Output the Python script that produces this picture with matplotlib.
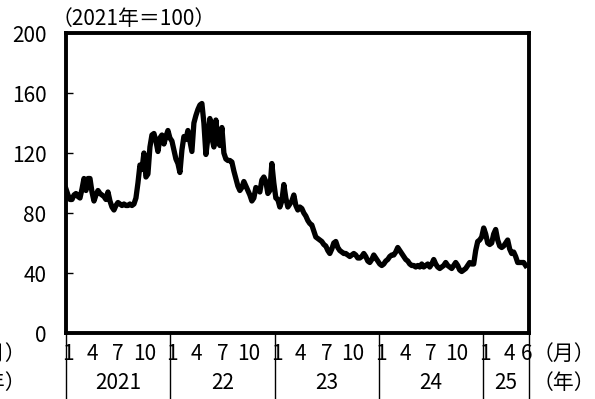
import numpy as np
import matplotlib
matplotlib.use('Agg')
import matplotlib.pyplot as plt

plt.rcParams['font.family'] = ['Noto Sans CJK JP', 'DejaVu Sans']

# weekly index (2021 = 100)
v2021 = [96, 92, 89, 89, 92, 93, 91, 90, 96, 103, 95, 103, 103, 94, 88, 92, 95, 93, 92, 91,
         89, 94, 88, 84, 82, 85, 87, 86, 85, 86, 85, 85, 86, 85, 86, 90, 100, 112, 109, 120,
         104, 106, 124, 132, 133, 128, 121, 130, 132, 126, 131, 135]
v2022 = [130, 128, 122, 116, 113, 107, 122, 131, 129, 135, 128, 121, 140, 145, 149, 152, 153, 140, 119, 130,
         143, 130, 124, 142, 128, 125, 137, 120, 116, 115, 115, 114, 108, 103, 98, 95, 97, 101, 98, 95,
         92, 88, 90, 97, 96, 94, 102, 104, 101, 93, 95, 113]
v2023 = [100, 90, 89, 84, 88, 99, 90, 84, 86, 88, 92, 85, 82, 84, 83, 80, 78, 75, 73, 72,
         68, 64, 63, 62, 61, 59, 58, 55, 53, 56, 60, 61, 57, 55, 54, 53, 53, 52, 51, 52,
         53, 52, 50, 50, 51, 53, 51, 48, 47, 49, 52, 50]
v2024 = [48, 46, 45, 46, 48, 49, 51, 52, 52, 54, 57, 55, 53, 51, 49, 48, 46, 45, 45, 44,
         45, 44, 46, 44, 45, 46, 44, 46, 49, 46, 44, 43, 44, 45, 47, 45, 44, 43, 45, 47,
         45, 42, 41, 42, 43, 45, 47, 46, 46, 55, 61, 62]
v2025 = [64, 70, 66, 60, 59, 60, 66, 69, 62, 58, 57, 58, 60, 62, 56, 53, 54, 51, 47, 47,
         47, 47, 45]

values = v2021 + v2022 + v2023 + v2024 + v2025
years = ['2021', '22', '23', '24', '25']
month_ticks = [1, 4, 7, 10]
month_ticks_last = [1, 4, 6]
yticks = [0, 40, 80, 120, 160, 200]

t = np.arange(len(values)) * 7 / 365.25
xend = 4.44

fig = plt.figure(figsize=(5.95, 3.99), dpi=100)
ax = fig.add_axes([66 / 595, 66 / 399, 463 / 595, 300 / 399])

ax.plot(t, values, color='black', lw=3.8, solid_joinstyle='round')

ax.set_xlim(0, xend)
ax.set_ylim(0, 200)
ax.set_yticks(yticks)
ax.set_xticks([])
ax.tick_params(axis='y', direction='in', length=5, width=1, labelsize=15, pad=14)
for s in ax.spines.values():
    s.set_linewidth(2.8)

tr = ax.get_xaxis_transform()
# year separators below the axis
for x in [0, 1, 2, 3, 4, xend]:
    ax.plot([x, x], [0, -0.215], transform=tr, color='black', lw=1, clip_on=False)

for i, y in enumerate(years):
    months = month_ticks_last if i == len(years) - 1 else month_ticks
    for m in months:
        x = i + (m - 1) / 12
        if m == 1:
            x += 0.02
        ax.text(x, -0.07, str(m), transform=tr, ha='center', va='center', fontsize=15)
    right = min(i + 1, xend)
    ax.text((i + right) / 2, -0.168, y, transform=tr, ha='center', va='center', fontsize=15)

fig.text(533 / 595, 1 - 354 / 399, '（月）', ha='left', va='center', fontsize=15)
fig.text(533 / 595, 1 - 383 / 399, '（年）', ha='left', va='center', fontsize=15)
# partly cut-off labels at the left edge, as in the source
fig.text(26 / 595, 1 - 354 / 399, '（月）', ha='right', va='center', fontsize=15)
fig.text(26 / 595, 1 - 383 / 399, '（年）', ha='right', va='center', fontsize=15)
fig.text(52 / 595, 1 - 19 / 399, '（2021年＝100）', ha='left', va='center', fontsize=15)

fig.savefig('out.png', dpi=100)
